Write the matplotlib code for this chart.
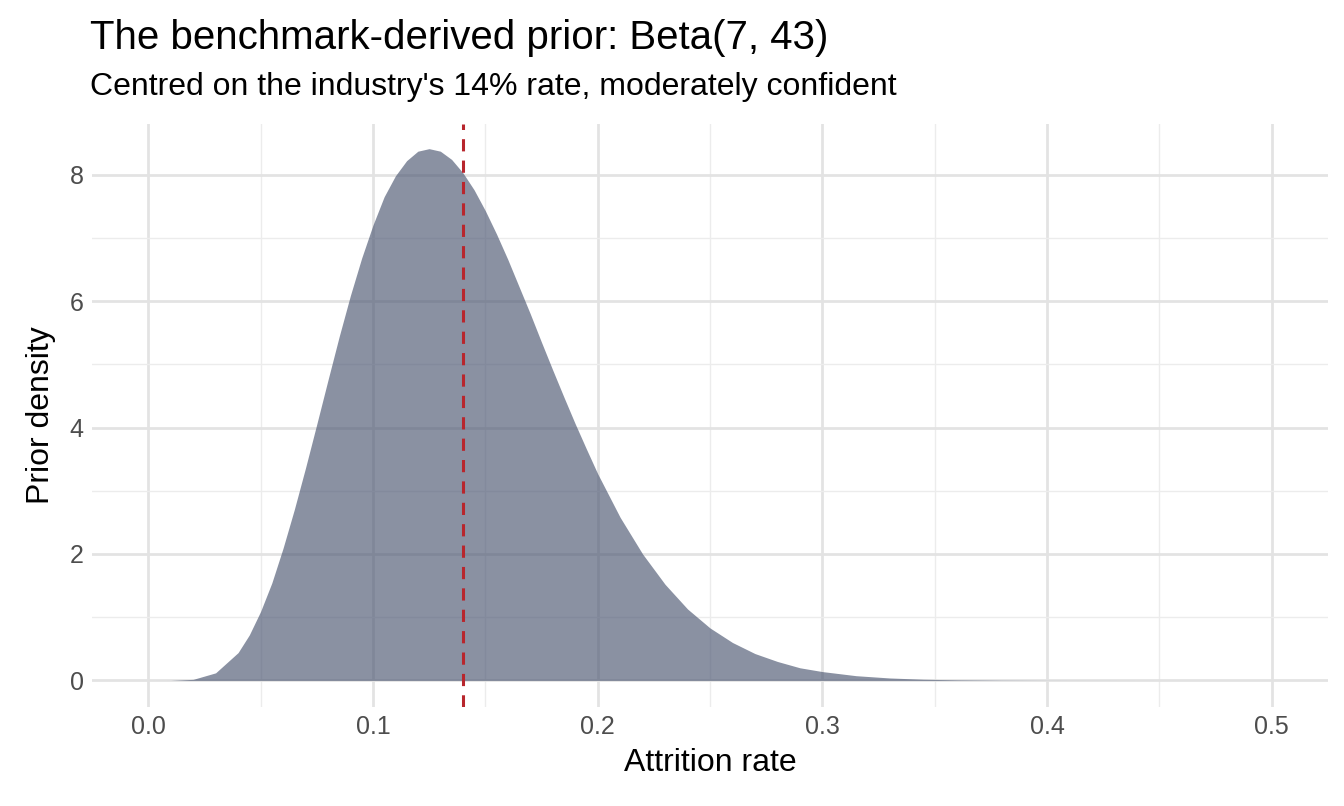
import matplotlib.pyplot as plt
from matplotlib.ticker import MultipleLocator

# density values
rate = [0.0, 0.01, 0.02, 0.03, 0.04, 0.045, 0.05, 0.055, 0.06, 0.065, 0.07,
        0.075, 0.08, 0.085, 0.09, 0.095, 0.10, 0.105, 0.11, 0.115, 0.12,
        0.125, 0.13, 0.135, 0.14, 0.145, 0.15, 0.155, 0.16, 0.165, 0.17,
        0.175, 0.18, 0.185, 0.19, 0.195, 0.20, 0.21, 0.22, 0.23, 0.24, 0.25,
        0.26, 0.27, 0.28, 0.29, 0.30, 0.315, 0.33, 0.345, 0.36, 0.38, 0.40,
        0.45, 0.50]
density = [0.0, 0.0004, 0.017, 0.12, 0.44, 0.72, 1.09, 1.54, 2.09, 2.70, 3.36,
           4.05, 4.75, 5.44, 6.09, 6.68, 7.20, 7.65, 7.98, 8.22, 8.37,
           8.41, 8.37, 8.24, 8.03, 7.76, 7.43, 7.06, 6.66, 6.23, 5.80,
           5.35, 4.91, 4.48, 4.06, 3.66, 3.27, 2.58, 2.00, 1.52, 1.13, 0.83,
           0.60, 0.425, 0.30, 0.20, 0.14, 0.075, 0.039, 0.019, 0.0095, 0.0035, 0.0012,
           0.0001, 0.0]
benchmark = 0.14

plt.rcParams['font.family'] = ['Liberation Sans', 'DejaVu Sans']
fig = plt.figure(figsize=(13.44, 8.06), dpi=100)
ax = fig.add_axes([92 / 1344, 1 - 707 / 806, (1328 - 92) / 1344, (707 - 124) / 806])

ax.fill_between(rate, density, color='#4b5671', alpha=0.65, linewidth=0, zorder=2)
ax.axvline(benchmark, color='#b8262d', linestyle=(0, (4, 3)), linewidth=2.2, zorder=3)

ax.set_xlim(-0.025, 0.525)
ax.set_ylim(-0.42, 8.8)
ax.xaxis.set_minor_locator(MultipleLocator(0.05))
ax.yaxis.set_major_locator(MultipleLocator(2))
ax.yaxis.set_minor_locator(MultipleLocator(1))
ax.set_xticks([0, 0.1, 0.2, 0.3, 0.4, 0.5])
ax.set_xticklabels(['0.0', '0.1', '0.2', '0.3', '0.4', '0.5'])
ax.grid(which='major', color='#e3e3e3', linewidth=2.0, zorder=0)
ax.grid(which='minor', color='#ececec', linewidth=1.0, zorder=0)
ax.set_axisbelow(True)
for s in ax.spines.values():
    s.set_visible(False)
ax.tick_params(which='both', length=0, labelsize=18, labelcolor='#4d4d4d', pad=6)

ax.set_xlabel('Attrition rate', fontsize=23, labelpad=6)
ax.set_ylabel('Prior density', fontsize=23, labelpad=10)
fig.text(90 / 1344, 1 - 38 / 806, 'The benchmark-derived prior: Beta(7, 43)',
         fontsize=29, va='center', ha='left')
fig.text(90 / 1344, 1 - 87 / 806, "Centred on the industry's 14% rate, moderately confident",
         fontsize=23, va='center', ha='left')

fig.savefig('out.png', dpi=100)
